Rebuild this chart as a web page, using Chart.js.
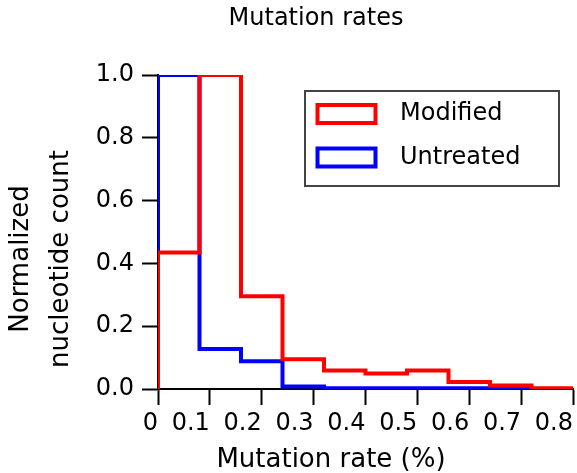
<!DOCTYPE html>
<html>
<head>
<meta charset="utf-8">
<title>Mutation rates</title>
<script src="https://cdn.jsdelivr.net/npm/chart.js@4.4.1/dist/chart.umd.min.js"></script>
<style>
  html, body { margin: 0; padding: 0; background: #fff; }
  #wrap { width: 577px; height: 473px; position: relative; }
</style>
</head>
<body>
<div id="wrap"><canvas id="chart1"></canvas></div>
<script>
// histogram bins (left edges + last right edge) and normalized counts
var binEdges = [0, 0.08, 0.16, 0.24, 0.32, 0.40, 0.48, 0.56, 0.64, 0.72, 0.80];
var modified = [0.435, 1.0, 0.295, 0.095, 0.059, 0.049, 0.059, 0.022, 0.011, 0.002];
var untreated = [1.0, 0.127, 0.088, 0.008, 0.002, 0.002, 0.002, 0.002, 0.002];
var seriesNames = ["Modified", "Untreated"];

var xTickValues = [0, 0.1, 0.2, 0.3, 0.4, 0.5, 0.6, 0.7, 0.8];
var xTickLabels = ["0", "0.1", "0.2", "0.3", "0.4", "0.5", "0.6", "0.7", "0.8"];
var yTickValues = [0, 0.2, 0.4, 0.6, 0.8, 1.0];
var yTickLabels = ["0.0", "0.2", "0.4", "0.6", "0.8", "1.0"];

var chartTitle = "Mutation rates";
var xTitle = "Mutation rate (%)";
var yTitle = ["Normalized", "nucleotide count"];

var FONT = "DejaVu Sans";
Chart.defaults.font.family = FONT;
Chart.defaults.color = "#000";

// step outline: start on the baseline, one point per bin left edge, back to baseline
function steps(values) {
  var pts = [{x: binEdges[0], y: 0}];
  for (var i = 0; i < values.length; i++) {
    pts.push({x: binEdges[i], y: values[i]});
  }
  pts.push({x: binEdges[values.length], y: 0});
  return pts;
}

var textPlugin = {
  id: "textLabels",
  afterDraw: function(chart) {
    var ctx = chart.ctx;
    ctx.save();
    ctx.fillStyle = "#000";
    ctx.textAlign = "center";
    ctx.textBaseline = "alphabetic";
    ctx.font = "24px '" + FONT + "'";
    ctx.fillText(chartTitle, 316, 25);
    ctx.font = "26px '" + FONT + "'";
    ctx.fillText(xTitle, 331, 467);
    ctx.translate(0, 259);
    ctx.rotate(-Math.PI / 2);
    ctx.fillText(yTitle[0], 0, 28);
    ctx.fillText(yTitle[1], 0, 68);
    ctx.restore();
  }
};

var legendPlugin = {
  id: "boxLegend",
  afterDraw: function(chart) {
    var ctx = chart.ctx;
    var area = chart.chartArea;
    var left = area.right - 268, top = area.top + 16;
    ctx.save();
    ctx.strokeStyle = "#444";
    ctx.lineWidth = 2;
    ctx.strokeRect(left, top, 254, 95);
    ctx.font = "24px '" + FONT + "'";
    ctx.textBaseline = "middle";
    ctx.textAlign = "left";
    chart.data.datasets.forEach(function(ds, i) {
      var cy = top + 23 + i * 43.5;
      ctx.lineWidth = 4;
      ctx.strokeStyle = ds.borderColor;
      ctx.strokeRect(left + 12.5, cy - 9, 58, 18);
      ctx.fillStyle = "#000";
      ctx.fillText(ds.label, left + 95, cy);
    });
    ctx.restore();
  }
};

var datos = {
  type: "line",
  data: {
    datasets: [{
      label: seriesNames[0],
      data: steps(modified),
      borderColor: "#ff0000",
      backgroundColor: "#ffffff",
      borderWidth: 4,
      stepped: "before",
      pointRadius: 0,
      fill: false
    }, {
      label: seriesNames[1],
      data: steps(untreated),
      borderColor: "#0000ff",
      backgroundColor: "#ffffff",
      borderWidth: 4,
      stepped: "before",
      pointRadius: 0,
      fill: false
    }]
  },
  options: {
    responsive: true,
    maintainAspectRatio: false,
    animation: false,
    layout: { padding: { top: 75, right: 2, left: 0, bottom: 0 } },
    plugins: {
      legend: { display: false },
      title: { display: false },
      tooltip: { enabled: false }
    },
    scales: {
      x: {
        type: "linear",
        min: 0,
        max: 0.8,
        afterBuildTicks: function(s) {
          s.ticks = xTickValues.map(function(v) { return {value: v}; });
        },
        afterFit: function(s) { s.height = 84; },
        ticks: {
          font: { size: 24 },
          align: "end",
          padding: 4,
          maxRotation: 0,
          autoSkip: false,
          callback: function(v, i) { return xTickLabels[i]; }
        },
        grid: { drawOnChartArea: false, drawTicks: true, tickLength: 16, tickWidth: 2, tickColor: "#000" },
        border: { display: true, color: "#000", width: 2 }
      },
      y: {
        min: 0,
        max: 1.0,
        afterBuildTicks: function(s) {
          s.ticks = yTickValues.map(function(v) { return {value: v}; });
        },
        afterFit: function(s) { s.width = 158; },
        ticks: {
          font: { size: 24 },
          padding: 8,
          autoSkip: false,
          callback: function(v, i) { return yTickLabels[i]; }
        },
        grid: { drawOnChartArea: false, drawTicks: true, tickLength: 16, tickWidth: 2, tickColor: "#000" },
        border: { display: true, color: "#000", width: 2 }
      }
    }
  },
  plugins: [textPlugin, legendPlugin]
};

var canvas = document.getElementById("chart1").getContext("2d");
window.hist = new Chart(canvas, datos);
</script>
</body>
</html>
